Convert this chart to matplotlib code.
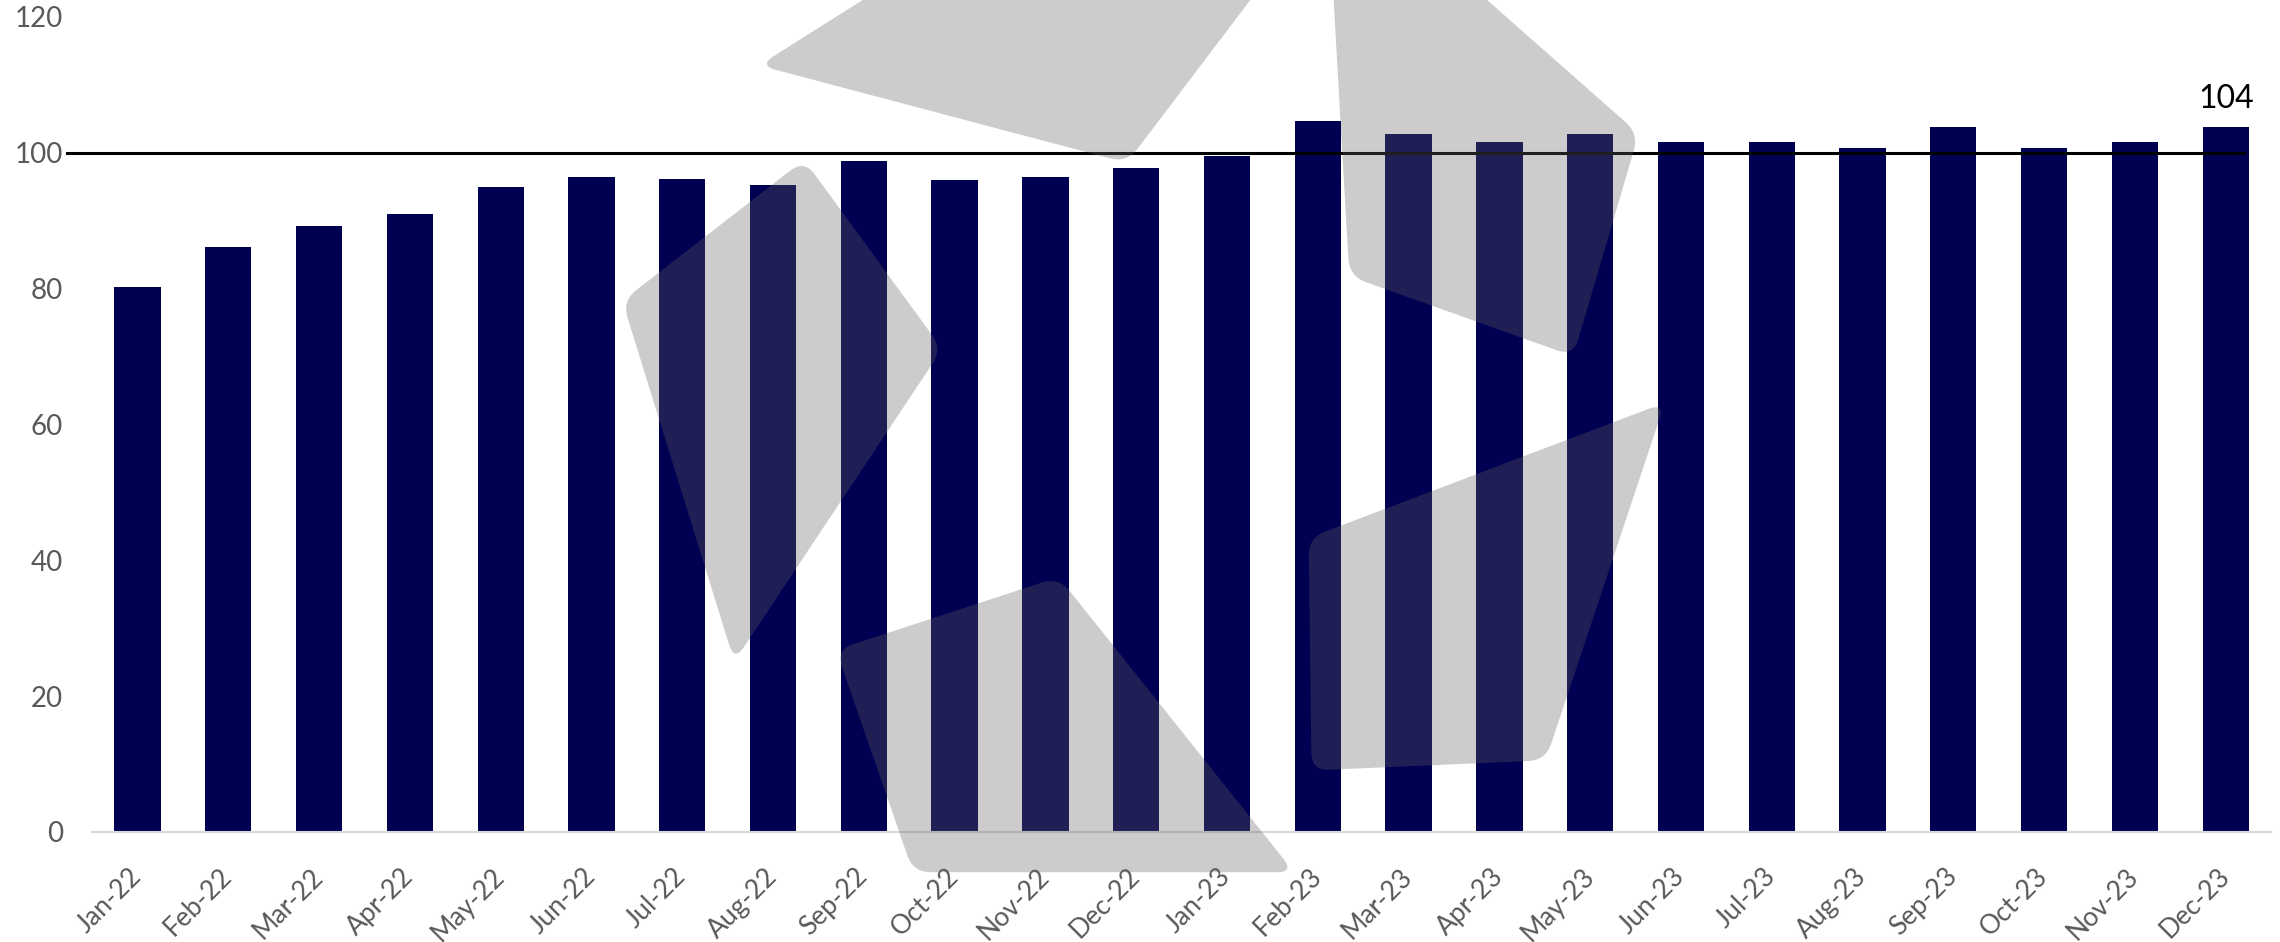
import matplotlib.pyplot as plt
import numpy as np
from matplotlib.path import Path
from matplotlib.patches import PathPatch
from matplotlib.transforms import Affine2D

plt.rcParams['font.family'] = ['Lato', 'DejaVu Sans']

# datos
meses = ['Jan-22', 'Feb-22', 'Mar-22', 'Apr-22', 'May-22', 'Jun-22', 'Jul-22', 'Aug-22',
         'Sep-22', 'Oct-22', 'Nov-22', 'Dec-22', 'Jan-23', 'Feb-23', 'Mar-23', 'Apr-23',
         'May-23', 'Jun-23', 'Jul-23', 'Aug-23', 'Sep-23', 'Oct-23', 'Nov-23', 'Dec-23']
valores = [80.3, 86.2, 89.2, 91.0, 95.0, 96.4, 96.2, 95.2, 98.8, 96.0, 96.4, 97.8,
           99.6, 104.7, 102.7, 101.6, 102.7, 101.6, 101.6, 100.7, 103.8, 100.7, 101.6, 103.8]
nivel_ref = 100
y_ticks = [0, 20, 40, 60, 80, 100, 120]

fig = plt.figure(figsize=(22.8, 9.42), dpi=100)
ax = fig.add_axes([0.0404, 0.1168, 0.9557, 0.8652])

x = np.arange(len(meses))
ax.bar(x, valores, width=0.51, color='#000052', zorder=2)

# linea de referencia en 100
ax.plot([-0.78, len(meses) - 0.8], [nivel_ref, nivel_ref], color='black', lw=2.2,
        clip_on=False, zorder=3)

# etiqueta del ultimo valor
ax.annotate(f'{valores[-1]:.0f}', (x[-1], valores[-1]), xytext=(0, 9),
            textcoords='offset points', ha='center', va='bottom', fontsize=23, color='black')

ax.set_xlim(-0.5, len(meses) - 0.5)
ax.set_ylim(0, 120)
ax.set_yticks(y_ticks)
ax.set_xticks(x)
ax.set_xticklabels(meses, rotation=45, ha='right', va='center', rotation_mode='anchor')
ax.tick_params(axis='y', length=0, pad=21, labelsize=20, labelcolor='#595959')
ax.tick_params(axis='x', length=0, pad=29, labelsize=19, labelcolor='#595959')
for s in ['top', 'right', 'left']:
    ax.spines[s].set_visible(False)
ax.spines['bottom'].set_color('#d9d9d9')
ax.spines['bottom'].set_linewidth(1.5)


# marca de agua gris (formas redondeadas)
def forma_redondeada(pts, r):
    pts = np.array(pts, dtype=float)
    n = len(pts)
    verts, codes = [], []
    for i in range(n):
        p0, p1, p2 = pts[i - 1], pts[i], pts[(i + 1) % n]
        d1 = (p0 - p1) / np.linalg.norm(p0 - p1)
        d2 = (p2 - p1) / np.linalg.norm(p2 - p1)
        verts.append(p1 + d1 * r)
        codes.append(Path.MOVETO if i == 0 else Path.LINETO)
        verts += [p1, p1 + d2 * r]
        codes += [Path.CURVE3, Path.CURVE3]
    verts.append(verts[0])
    codes.append(Path.CLOSEPOLY)
    return Path(verts, codes)


formas = [
    [(522, 45), (625, -20), (875, -20), (775, 112)],
    [(916, -20), (1000, -20), (1127, 92), (1082, 245), (928, 190)],
    [(428, 207), (553, 110), (648, 240), (505, 455)],
    [(575, 447), (728, 397), (890, 600), (628, 600)],
    [(900, 370), (1145, 277), (1063, 523), (902, 530)],
]
trans_px = Affine2D().scale(1 / 1568, -1 / 648).translate(0, 1) + fig.transFigure
for f in formas:
    fig.patches.append(PathPatch(forma_redondeada(f, 12), transform=trans_px,
                                 facecolor=(97 / 255, 97 / 255, 97 / 255), alpha=0.32,
                                 edgecolor='none', zorder=10))

fig.savefig('out.png', dpi=100)
